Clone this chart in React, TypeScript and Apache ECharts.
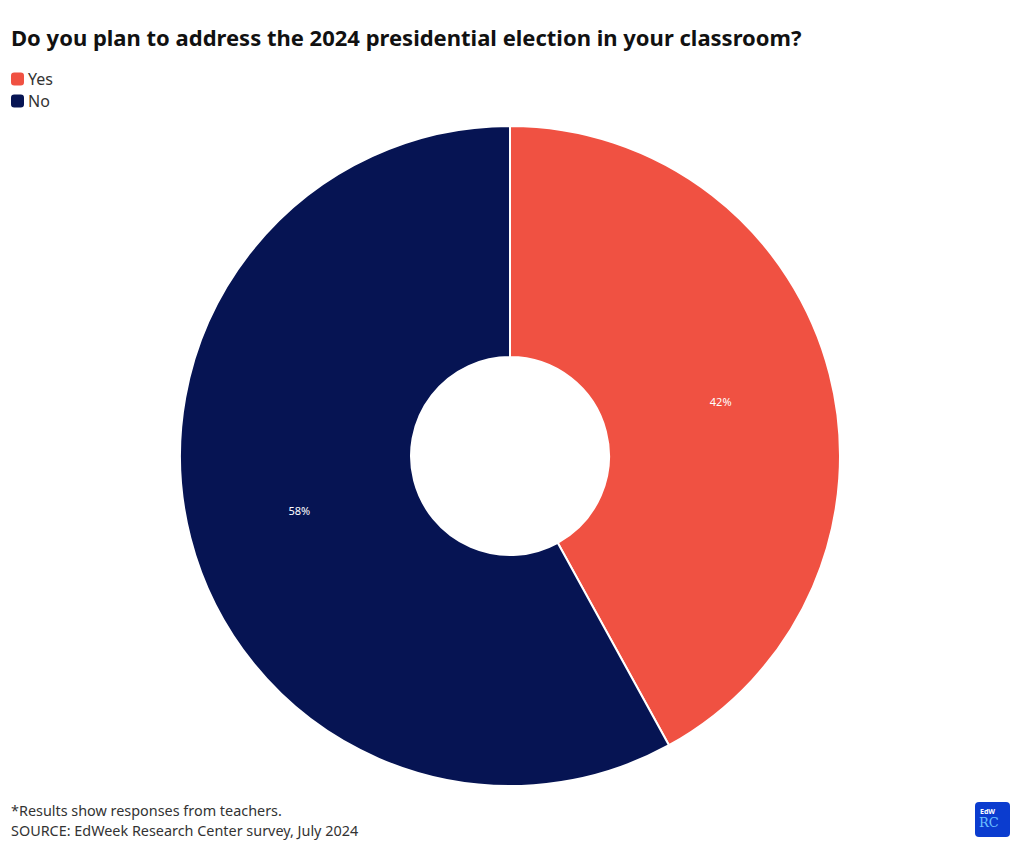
import React, { useEffect, useRef } from "react";
import * as echarts from "echarts";

const categories = ["Yes", "No"];
const values = [42, 58];
const colors = ["#f05142", "#061453"];
const titleText = "Do you plan to address the 2024 presidential election in your classroom?";
const footnote = "*Results show responses from teachers.";
const sourceText = "SOURCE: EdWeek Research Center survey, July 2024";

const FONT = "'Source Sans Pro', 'Noto Sans', Lato, sans-serif";

export default function App() {
  const ref = useRef<HTMLDivElement>(null);
  useEffect(() => {
    document.body.style.margin = "0";
    const chart = echarts.init(ref.current!, null, { renderer: "svg" });
    chart.setOption({
      animation: false,
      backgroundColor: "#ffffff",
      title: {
        text: titleText,
        left: 11,
        top: 26,
        padding: 0,
        textStyle: { fontFamily: FONT, fontSize: 22, fontWeight: "bold", color: "#111111" },
      },
      legend: {
        orient: "vertical",
        left: 11,
        top: 71,
        padding: 0,
        icon: "roundRect",
        itemWidth: 13,
        itemHeight: 13,
        itemGap: 6,
        itemStyle: { borderWidth: 0 },
        data: categories,
        textStyle: { fontFamily: FONT, fontSize: 16, color: "#333333", padding: [0, 0, 0, -1] },
      },
      series: [
        {
          type: "pie",
          center: [510, 456],
          radius: [99, 330],
          startAngle: 90,
          clockwise: true,
          itemStyle: { borderColor: "#ffffff", borderWidth: 2 },
          label: {
            show: true,
            position: "inside",
            formatter: "{c}%",
            color: "#ffffff",
            fontFamily: FONT,
            fontSize: 11,
          },
          labelLine: { show: false },
          emphasis: { disabled: true },
          data: categories.map((c, i) => ({ name: c, value: values[i], itemStyle: { color: colors[i] } })),
        },
      ],
      graphic: [
        {
          type: "text",
          left: 11,
          top: 803,
          style: { text: footnote, fontFamily: FONT, fontSize: 14.4, fill: "#333333" },
        },
        {
          type: "text",
          left: 11,
          top: 823,
          style: { text: sourceText, fontFamily: FONT, fontSize: 14.4, fill: "#333333" },
        },
        {
          type: "rect",
          shape: { x: 975, y: 802, width: 35, height: 35, r: 4 },
          style: { fill: "#0b3ccf" },
        },
        {
          type: "text",
          x: 980,
          y: 808,
          style: { text: "EdW", fontFamily: "Noto Sans", fontSize: 7, fontWeight: "bold", fill: "#ffffff", verticalAlign: "top" },
        },
        {
          type: "text",
          x: 979,
          y: 816,
          style: { text: "RC", fontFamily: "DejaVu Serif", fontSize: 13, fill: "#6cc0ff", verticalAlign: "top" },
        },
      ],
    });
    return () => chart.dispose();
  }, []);
  return <div ref={ref} style={{ width: 1020, height: 851 }} />;
}
